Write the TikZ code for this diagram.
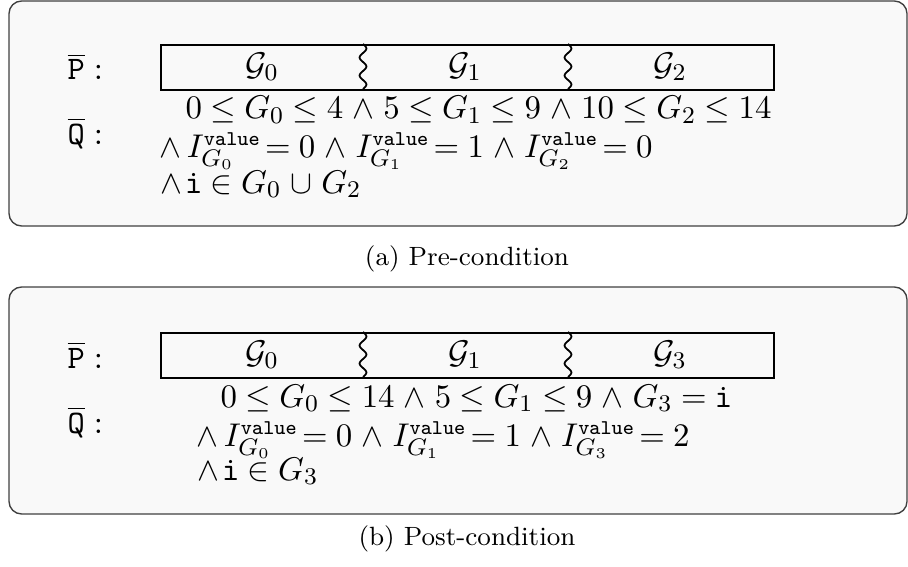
\documentclass[tikz,border=0pt]{standalone}
\usepackage{amsmath}
\newcommand{\valI}[1]{I^{\text{\fontsize{7}{8}\selectfont\ttfamily value}}_{#1}\mkern-2.5mu}
\newcommand{\mlspacing}{\medmuskip=5mu\relax\thickmuskip=4.6mu\relax}
\begin{document}
\begin{tikzpicture}[x=0.33333pt,y=-0.33333pt,
  outerbox/.style={draw=black!75,line width=0.45pt,fill=black!2.5,rounded corners=4.2pt},
  cellrow/.style={draw=black,line width=0.7pt},
  squig/.style={draw=black,line width=0.6pt},
  lbl/.style={inner sep=0pt,anchor=base west,font=\fontsize{10.5}{12}\selectfont},
  mline/.style={inner sep=0pt,anchor=base west,font=\fontsize{11}{13}\selectfont\mlspacing},
  gname/.style={inner sep=0pt,font=\fontsize{11}{13}\selectfont},
  captext/.style={inner sep=0pt,anchor=base,font=\fontsize{8.8}{10}\selectfont}]
\useasboundingbox (0,0) rectangle (908,567);
% ---------- (a) ----------
\path[outerbox] (9,1) rectangle (907,226);
\node[cellrow,minimum width=204.3pt,minimum height=15pt,inner sep=0pt,anchor=north west] (rowa) at (160,44) {};
\draw[squig] plot[smooth,domain=0:45,samples=41] ({363+3.4*sin(\x*20)},{44+\x});
\draw[squig] plot[smooth,domain=0:45,samples=41] ({568+3.4*sin(\x*20)},{44+\x});
\node[gname] (ga0) at (262,67) {$\mathcal{G}_0$};
\node[gname] (ga1) at (465,67) {$\mathcal{G}_1$};
\node[gname] (ga2) at (670,67) {$\mathcal{G}_2$};
\node[lbl] (pa) at (67,80) {$\overline{\mathtt{P}}:$};
\node[lbl] (qa) at (67,144) {$\overline{\mathtt{Q}}:$};
\node[mline] (la1) at (185,119) {$0 \le G_0 \le 4 \wedge 5 \le G_1 \le 9 \wedge 10 \le G_2 \le 14$};
\node[mline] (la2) at (159,157) {$\wedge\, \valI{G_0} = 0 \wedge \valI{G_1} = 1 \wedge \valI{G_2} = 0$};
\node[mline] (la3) at (160,193) {$\wedge\mkern1.5mu \mathtt{i} \in G_0 \cup G_2$};
\node[captext] (capa) at (467,265) {(a) Pre-condition};
% ---------- (b) ----------
\path[outerbox] (9,287) rectangle (907,514);
\node[cellrow,minimum width=204.3pt,minimum height=15pt,inner sep=0pt,anchor=north west] (rowb) at (160,332) {};
\draw[squig] plot[smooth,domain=0:45,samples=41] ({363+3.4*sin(\x*20)},{332+\x});
\draw[squig] plot[smooth,domain=0:45,samples=41] ({568+3.4*sin(\x*20)},{332+\x});
\node[gname] (gb0) at (262,355) {$\mathcal{G}_0$};
\node[gname] (gb1) at (465,355) {$\mathcal{G}_1$};
\node[gname] (gb3) at (670,355) {$\mathcal{G}_3$};
\node[lbl] (pb) at (67,368) {$\overline{\mathtt{P}}:$};
\node[lbl] (qb) at (67,433) {$\overline{\mathtt{Q}}:$};
\node[mline] (lb1) at (220,407) {$0 \le G_0 \le 14 \wedge 5 \le G_1 \le 9 \wedge G_3 = \mathtt{i}$};
\node[mline] (lb2) at (196,446) {$\wedge\, \valI{G_0} = 0 \wedge \valI{G_1} = 1 \wedge \valI{G_3} = 2$};
\node[mline] (lb3) at (197,480) {$\wedge\mkern1.5mu \mathtt{i} \in G_3$};
\node[captext] (capb) at (467,545) {(b) Post-condition};
\end{tikzpicture}
\end{document}
